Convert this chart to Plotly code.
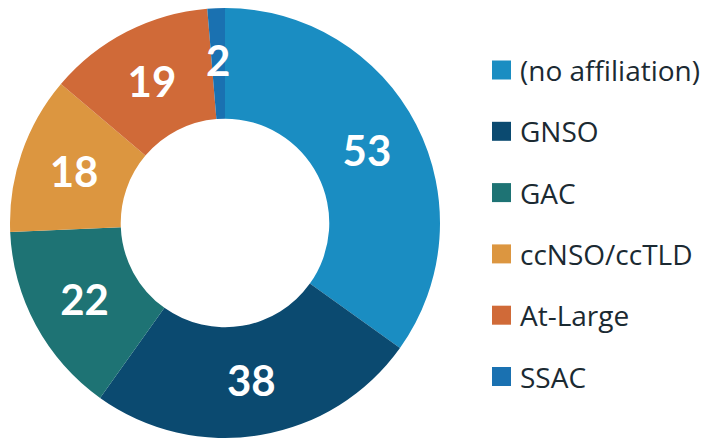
import math
import plotly.graph_objects as go

labels = ["(no affiliation)", "GNSO", "GAC", "ccNSO/ccTLD", "At-Large", "SSAC"]
values = [53, 38, 22, 18, 19, 2]
colors = ["#1a8dc2", "#0b4a70", "#1e7374", "#dc9640", "#d06a38", "#1a71b1"]

W, H = 709, 438
OFF = 8  # page body margin offset
r = 215
cx, cy = 225 - OFF, r
hole = 0.485
domain = dict(x=[(cx - r) / W, (cx + r) / W],
              y=[max(0.0, (H - cy - r) / H), min(1.0, (H - cy + r) / H)])
small = [v < 5 for v in values]
textfont = dict(family="Lato", size=42, color="white", weight="bold")

fig = go.Figure()
fig.add_trace(go.Pie(
    labels=labels,
    values=values,
    marker=dict(colors=colors, line=dict(width=0)),
    hole=hole,
    sort=False,
    direction="clockwise",
    rotation=0,
    texttemplate=["" if s else "%{value}" for s in small],
    textposition="inside",
    insidetextorientation="horizontal",
    textfont=textfont,
    domain=domain,
    showlegend=False,
))

# value labels for slices too thin for Plotly's inside text: place at ring middle
total = sum(values)
cum = 0
rm = r * (1 + hole) / 2 + 4
for v, s in zip(values, small):
    if s:
        th = math.radians((cum + v / 2) / total * 360)
        fig.add_annotation(
            x=(cx + rm * math.sin(th)) / W, y=(H - cy + rm * math.cos(th)) / H,
            xref="paper", yref="paper", text=str(v), showarrow=False,
            font=textfont, xanchor="center", yanchor="middle",
        )
    cum += v

# legend drawn manually to match item spacing
lx, ly0, dy, sq = 492 - OFF, 70 - OFF, 61.3, 19
for i, (lab, col) in enumerate(zip(labels, colors)):
    yc = ly0 + i * dy
    fig.add_shape(
        type="rect", xref="paper", yref="paper",
        x0=lx / W, x1=(lx + sq) / W,
        y0=(H - yc - sq / 2) / H, y1=(H - yc + sq / 2) / H,
        fillcolor=col, line=dict(width=0),
    )
    fig.add_annotation(
        x=(lx + sq + 7) / W, y=(H - yc) / H, xref="paper", yref="paper",
        text=lab, showarrow=False, xanchor="left", yanchor="middle",
        font=dict(family="Open Sans", size=28, color="#1b2a32"),
    )

fig.update_layout(
    width=W, height=H,
    margin=dict(l=0, r=0, t=0, b=0),
    paper_bgcolor="white",
    uniformtext=dict(minsize=40, mode="show"),
    showlegend=False,
)

fig.write_html("out.html")
